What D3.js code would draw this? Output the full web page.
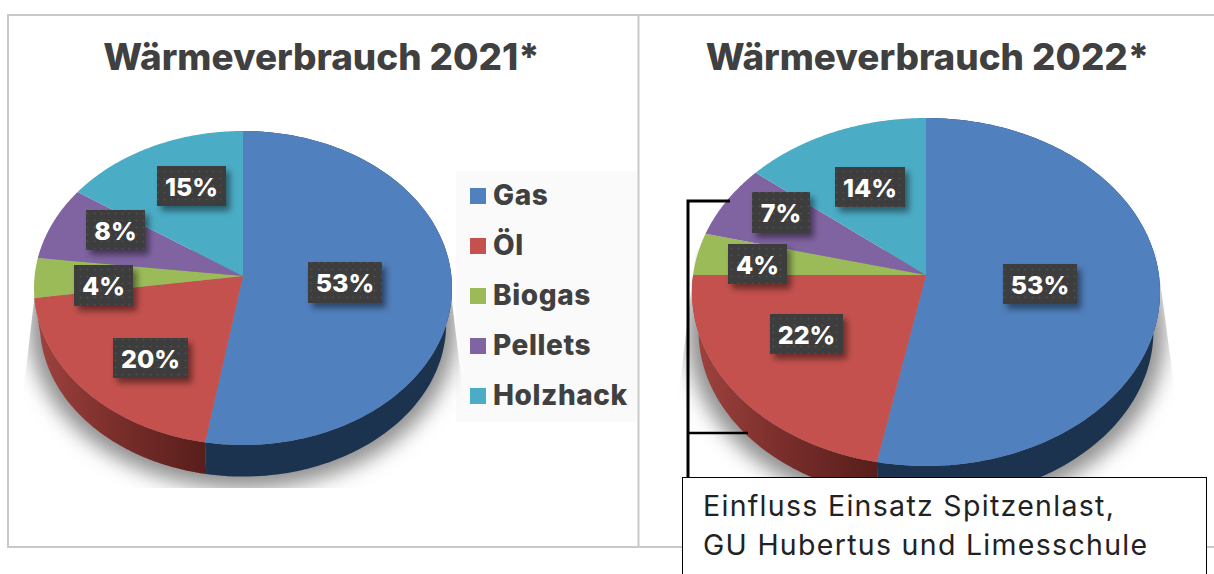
<!DOCTYPE html>
<html><head><meta charset="utf-8">
<script src="https://cdn.jsdelivr.net/npm/d3@7/dist/d3.min.js"></script>
<style>html,body{margin:0;padding:0;background:#fff}svg{display:block}</style>
</head><body><svg id="c" width="1214" height="574"></svg>
<script>
const categories = ["Gas","Öl","Biogas","Pellets","Holzhack"];
const values2021 = [53,20,4,8,15];
const values2022 = [53,22,4,7,14];
const labels2021 = ["53%","20%","4%","8%","15%"];
const labels2022 = ["53%","22%","4%","7%","14%"];
const titles = ["Wärmeverbrauch 2021*","Wärmeverbrauch 2022*"];
const noteLines = ["Einfluss Einsatz Spitzenlast,","GU Hubertus und Limesschule"];
const colors = ["#5080be","#c4514e","#9bbb59","#8064a2","#4bacc6"];

const FONT = "Inter, 'Open Sans', sans-serif";
const TXT = "#404040";
const svg = d3.select("#c");
const defs = svg.append("defs");

const pat = defs.append("pattern").attr("id","dots").attr("width",7).attr("height",7).attr("patternUnits","userSpaceOnUse");
pat.append("rect").attr("width",7).attr("height",7).attr("fill","#3c3c3c");
pat.append("circle").attr("cx",3.5).attr("cy",3.5).attr("r",1).attr("fill","#505050");

const ds = defs.append("filter").attr("id","boxShadow").attr("x","-20%").attr("y","-20%").attr("width","150%").attr("height","160%");
ds.append("feDropShadow").attr("dx",4).attr("dy",5).attr("stdDeviation",3).attr("flood-color","#000").attr("flood-opacity",0.45);
defs.append("filter").attr("id","blur").attr("x","-20%").attr("y","-20%").attr("width","140%").attr("height","140%")
  .append("feGaussianBlur").attr("stdDeviation",10);

// frame
const frame = svg.append("g").attr("fill","none").attr("stroke","#c9c9c9").attr("stroke-width",2);
frame.append("path").attr("d",d3.line()([[1214,15],[8,15],[8,547],[1214,547]]));
frame.append("path").attr("d",d3.line()([[638.5,15],[638.5,547]]));

// titles
svg.selectAll("text.title").data(titles).join("text").attr("class","title")
  .attr("x",(d,i)=>[321.5,927.5][i]).attr("y",70).attr("text-anchor","middle")
  .attr("font-family",FONT).attr("font-weight",800).attr("font-size",36.8).attr("fill",TXT).text(d=>d);

function drawPie(idx, values, labels, g, boxes){
  const {cx,cy,ax,ay,rx,ry,rayUp,rayDown,depth,shrink,shadow} = g;
  const root = svg.append("g");
  const arcs = d3.pie().sort(null).value(d=>d)(values);
  // point on the top ellipse along the ray from the apex
  const rim = (th, R=1, dy=0) => {
    const c = Math.cos(th);
    const dx = Math.sin(th)*rx, dyy = -c*(c>0?rayUp:rayDown);
    const ex = ax-cx, ey = ay-cy;
    const A = dx*dx/(rx*rx)+dyy*dyy/(ry*ry);
    const B = 2*(ex*dx/(rx*rx)+ey*dyy/(ry*ry));
    const C = ex*ex/(rx*rx)+ey*ey/(ry*ry)-1;
    const t = (-B+Math.sqrt(B*B-4*A*C))/(2*A);
    const px = ax+t*dx, py = ay+t*dyy;
    return [cx+(px-cx)*R, cy+(py-cy)*R+dy];
  };
  const sample = a => d3.range(0,121).map(i=>a.startAngle+(a.endAngle-a.startAngle)*i/120);
  const line = d3.line();

  // soft shadow
  const cid = "clipS"+idx;
  defs.append("clipPath").attr("id",cid).append("path").attr("d",line(shadow.clip));
  root.append("g").attr("clip-path",`url(#${cid})`).append("ellipse")
    .attr("cx",cx).attr("cy",cy+depth+2).attr("rx",rx+5).attr("ry",ry+6)
    .attr("fill","#8f8f8f").attr("filter","url(#blur)");

  // side walls
  const gid = "sideRed"+idx;
  const lg = defs.append("linearGradient").attr("id",gid).attr("gradientUnits","userSpaceOnUse")
    .attr("x1",rim(arcs[1].endAngle)[0]).attr("x2",rim(arcs[1].startAngle)[0]).attr("y1",0).attr("y2",0);
  lg.append("stop").attr("offset",0).attr("stop-color","#a0433f");
  lg.append("stop").attr("offset",0.45).attr("stop-color","#7c2f2c");
  lg.append("stop").attr("offset",1).attr("stop-color","#581e1b");
  const sideFill = ["#1c3350",`url(#${gid})`];
  root.selectAll("path.side").data(arcs.slice(0,2)).join("path").attr("class","side")
    .attr("fill",(d,i)=>sideFill[i])
    .attr("d",a=>{
      const ths = sample(a);
      const top = ths.map(t=>rim(t));
      const bot = ths.map(t=>rim(t,shrink,depth)).reverse();
      return line(top.concat(bot))+"Z";
    });

  // top face
  root.selectAll("path.top").data(arcs).join("path").attr("class","top")
    .attr("fill",(d,i)=>colors[i])
    .attr("d",a=>line([[ax,ay]].concat(sample(a).map(t=>rim(t))))+"Z");

  // label boxes
  const lb = root.selectAll("g.lab").data(labels).join("g").attr("class","lab");
  lb.append("rect").attr("x",(d,i)=>boxes[i][0]).attr("y",(d,i)=>boxes[i][1])
    .attr("width",(d,i)=>boxes[i][2]).attr("height",(d,i)=>boxes[i][3])
    .attr("fill","url(#dots)").attr("filter","url(#boxShadow)");
  lb.append("text").attr("x",(d,i)=>boxes[i][0]+boxes[i][2]/2).attr("y",(d,i)=>boxes[i][1]+boxes[i][3]/2+9.5)
    .attr("text-anchor","middle").attr("font-family",FONT).attr("font-weight",800).attr("font-size",25)
    .attr("fill","#fff").text(d=>d);
}

// legend background sits behind pie 1's shadow
svg.append("rect").attr("x",456).attr("y",171).attr("width",181).attr("height",251).attr("fill","#fafafa");

drawPie(0,values2021,labels2021,
  {cx:243,cy:288,ax:243,ay:276,rx:209,ry:157,rayUp:146,rayDown:175,depth:36,shrink:0.972,
   shadow:{clip:[[40,250],[446,250],[466,420],[466,488],[20,488],[20,420]]}},
  [[308,262,74,41],[113,338,75,40],[74,265,59,41],[86,210,59,40],[157,166,69,40]]);

drawPie(1,values2022,labels2022,
  {cx:926,cy:292,ax:926,ay:275,rx:234,ry:174,rayUp:170,rayDown:170,depth:39,shrink:0.972,
   shadow:{clip:[[696,250],[1156,250],[1176,400],[1176,500],[678,500],[678,400]]}},
  [[1003,264,74,40],[770,314,73,40],[728,244,59,40],[752,192,58,41],[835,167,70,40]]);

// legend
const leg = svg.append("g").selectAll("g").data(categories).join("g");
const legendY = d3.scalePoint().domain(categories).range([196,396]);
leg.append("rect").attr("x",470).attr("y",d=>legendY(d)-8).attr("width",16).attr("height",16).attr("fill",(d,i)=>colors[i]);
leg.append("text").attr("x",493).attr("y",d=>legendY(d)+9).attr("font-family",FONT).attr("font-weight",800)
  .attr("font-size",28).attr("letter-spacing",0.6).attr("fill",TXT).text(d=>d);

// bracket
const br = svg.append("g").attr("fill","none").attr("stroke","#000");
br.append("path").attr("stroke-width",3).attr("d",d3.line()([[730,201],[688,201],[688,478]]));
br.append("path").attr("stroke-width",2.5).attr("d",d3.line()([[688,433],[748,433]]));

// note
svg.append("rect").attr("x",682.5).attr("y",477.5).attr("width",524).attr("height",110).attr("fill","#fff").attr("stroke","#000").attr("stroke-width",1);
svg.selectAll("text.note").data(noteLines).join("text").attr("class","note")
  .attr("x",703).attr("y",(d,i)=>516+i*39).attr("font-family",FONT).attr("font-size",28.5).attr("letter-spacing",1.3)
  .attr("fill","#222").text(d=>d);
</script></body></html>
